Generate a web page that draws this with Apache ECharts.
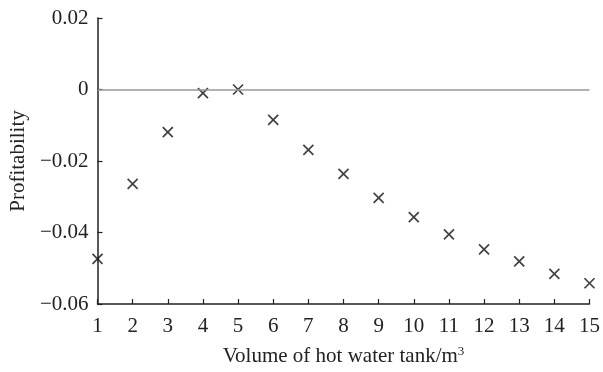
<!DOCTYPE html>
<html>
<head>
<meta charset="utf-8">
<script src="https://cdn.jsdelivr.net/npm/echarts@6/dist/echarts.min.js"></script>
<style>
  html, body { margin: 0; padding: 0; background: #fff; }
  #main { width: 603px; height: 372px; }
</style>
</head>
<body>
<div id="main"></div>
<script>
const volumes = [1, 2, 3, 4, 5, 6, 7, 8, 9, 10, 11, 12, 13, 14, 15];
const profitability = [-0.0474, -0.0264, -0.0119, -0.001, 0.0, -0.0085, -0.0169, -0.0236,
  -0.0303, -0.0357, -0.0405, -0.0447, -0.0481, -0.0516, -0.0542];
const yTicks = [-0.06, -0.04, -0.02, 0, 0.02];

const fontFamily = '"Liberation Serif", "DejaVu Serif", serif';
const chart = echarts.init(document.getElementById('main'));

const option = {
  animation: false,
  backgroundColor: '#fff',
  grid: { left: 96, right: 11, top: 18, bottom: 65 },
  xAxis: {
    type: 'value',
    min: 1,
    max: 15,
    interval: 1,
    name: 'Volume of hot water tank/m{sup|3}',
    nameLocation: 'middle',
    nameGap: 41,
    nameTextStyle: {
      fontFamily: fontFamily, fontSize: 21, color: '#222',
      rich: { sup: { fontFamily: fontFamily, fontSize: 13, color: '#222', verticalAlign: 'top', padding: [0, 0, 10, 0] } }
    },
    axisLine: { show: true, onZero: false, lineStyle: { color: '#222', width: 1.5 } },
    axisTick: { show: true, inside: true, length: 5, lineStyle: { color: '#222', width: 1.2 } },
    axisLabel: { fontFamily: fontFamily, fontSize: 21, color: '#222', margin: 12 },
    splitLine: { show: false }
  },
  yAxis: {
    type: 'value',
    min: -0.06,
    max: 0.02,
    interval: 0.02,
    name: 'Profitability',
    nameLocation: 'middle',
    nameGap: 68,
    nameTextStyle: { fontFamily: fontFamily, fontSize: 21, color: '#222' },
    axisLine: { show: true, lineStyle: { color: '#222', width: 1.5 } },
    axisTick: { show: true, inside: true, length: 5, lineStyle: { color: '#222', width: 1.2 } },
    axisLabel: {
      fontFamily: fontFamily, fontSize: 21, color: '#222', margin: 9,
      formatter: function (v) {
        const r = Math.round(v * 100) / 100;
        const t = yTicks.find(function (k) { return Math.abs(k - r) < 1e-9; });
        if (t === 0) return '0';
        const s = Math.abs(t).toFixed(2);
        return t < 0 ? '\u2212' + s : s;
      }
    },
    splitLine: { show: false }
  },
  series: [{
    type: 'scatter',
    data: volumes.map(function (x, i) { return [x, profitability[i]]; }),
    symbol: 'path://M0,0L10,10M10,0L0,10',
    symbolSize: 10,
    itemStyle: { color: 'none', borderColor: '#111', borderWidth: 1.7 },
    markLine: {
      silent: true,
      symbol: ['none', 'none'],
      label: { show: false },
      lineStyle: { color: '#999', width: 1.5, type: 'solid' },
      data: [{ yAxis: 0 }]
    }
  }]
};

chart.setOption(option);
</script>
</body>
</html>
